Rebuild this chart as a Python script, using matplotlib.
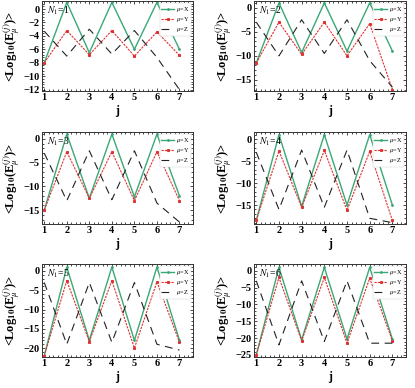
import matplotlib
matplotlib.use("Agg")
import matplotlib.pyplot as plt
from matplotlib.ticker import MultipleLocator

plt.rcParams['font.family'] = ['Liberation Serif', 'DejaVu Serif']
plt.rcParams['mathtext.fontset'] = 'stix'

j = [1, 2, 3, 4, 5, 6, 7]
n1_labels = ["1", "2", "3", "4", "5", "6"]

mu_x = [
    [-8.0, 1.0, -6.5, 1.0, -6.0, 1.0, -6.0],
    [-11.5, 1.0, -9.3, 1.0, -9.0, 1.0, -9.0],
    [-15.0, 1.0, -12.5, 1.0, -12.2, 1.0, -12.0],
    [-18.5, 1.0, -15.3, 1.0, -15.0, 1.0, -15.0],
    [-22.0, 1.0, -18.0, 1.0, -18.0, 1.0, -18.0],
    [-25.0, 1.0, -20.5, 1.0, -20.3, 1.0, -20.3],
]
mu_y = [
    [-8.0, -3.2, -6.8, -3.2, -7.0, -3.4, -6.9],
    [-11.5, -3.0, -9.7, -3.0, -10.0, -3.3, -17.0],
    [-15.0, -2.7, -12.5, -2.7, -13.0, -2.7, -13.0],
    [-18.5, -2.7, -15.5, -2.6, -16.2, -2.8, -18.5],
    [-22.0, -2.5, -18.3, -2.5, -20.0, -2.8, -18.5],
    [-25.0, -2.0, -20.8, -2.0, -21.5, -2.2, -20.8],
]
mu_z = [
    [-3.3, -7.0, -3.0, -6.7, -3.2, -7.2, -12.0],
    [-3.0, -10.0, -2.5, -9.5, -2.5, -11.0, -16.5],
    [-3.0, -13.0, -2.5, -12.8, -2.5, -13.5, -17.5],
    [-3.0, -16.0, -2.5, -15.5, -2.5, -18.0, -19.0],
    [-3.0, -19.0, -3.0, -18.5, -3.0, -19.0, -20.5],
    [-3.0, -22.0, -3.0, -21.0, -3.0, -21.5, -21.5],
]

ylims = [(-12.2, 1.2), (-17.3, 1.4), (-17.9, 1.45),
         (-19.3, 1.6), (-22.3, 1.8), (-25.6, 2.0)]
ysteps = [2, 5, 5, 5, 5, 5]

W, H = 415, 388
fig = plt.figure(figsize=(W / 100, H / 100), dpi=100)

cols = [(42, 193), (254, 406)]
rows = [(1, 91), (132, 224), (264, 357)]

for k in range(6):
    r, c = divmod(k, 2)
    x0, x1 = cols[c]
    t, b = rows[r]
    ax = fig.add_axes([x0 / W, 1 - b / H, (x1 - x0) / W, (b - t) / H])
    ax.plot(j, mu_x[k], color='#3aa876', lw=1.0, marker='o', ms=1.0,
            label=r'$\mu$=X')
    ax.plot(j, mu_y[k], color='#e0302f', lw=0.8, ls=(0, (2, 1)),
            marker='s', ms=1.2, label=r'$\mu$=Y')
    ax.plot(j, mu_z[k], color='#222222', lw=0.8, ls=(0, (7, 5)),
            label=r'$\mu$=Z')
    ax.set_xlim(0.9, 7.6)
    ax.set_ylim(*ylims[k])
    ax.set_xticks(j)
    ax.yaxis.set_major_locator(MultipleLocator(ysteps[k]))
    ax.xaxis.set_minor_locator(MultipleLocator(0.2))
    ax.yaxis.set_minor_locator(MultipleLocator(ysteps[k] / 5))
    ax.tick_params(which='both', direction='in', top=True, right=True,
                   labelsize=7.5, pad=1.5, width=0.5)
    ax.tick_params(which='major', length=2.5)
    ax.tick_params(which='minor', length=1.2)
    for lab in ax.get_xticklabels() + ax.get_yticklabels():
        lab.set_fontweight('bold')
    for s in ax.spines.values():
        s.set_linewidth(0.7)
        s.set_color('#333333')
    ax.set_xlabel('j', fontsize=8.5, fontweight='bold', labelpad=2)
    ax.set_ylabel(r'<Log$_{\mathbf{10}}$(E$_\mu^{(j)}$)>', fontsize=9,
                  fontweight='bold', labelpad=1)
    ax.text(0.03, 0.96, r'$N_1$=' + n1_labels[k], transform=ax.transAxes,
            fontsize=7, va='top', ha='left')
    leg = ax.legend(loc='upper right', fontsize=4.5, handlelength=2.0,
                    borderpad=0.3, labelspacing=0.2, handletextpad=0.3,
                    fancybox=False, framealpha=1, borderaxespad=0.3)
    leg.get_frame().set_linewidth(0.3)
    leg.get_frame().set_edgecolor('#cccccc')

fig.savefig('out.png', dpi=100)
